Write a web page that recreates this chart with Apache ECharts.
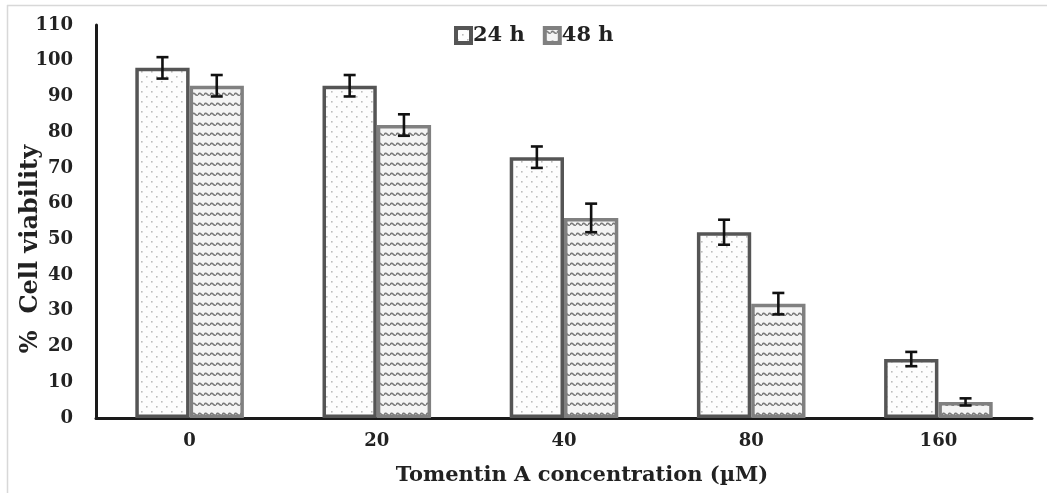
<!DOCTYPE html>
<html><head><meta charset="utf-8">
<script src="https://cdn.jsdelivr.net/npm/echarts@6/dist/echarts.min.js"></script>
<style>html,body{margin:0;padding:0;background:#fff}#c{width:1047px;height:493px}</style>
</head><body><div id="c"></div>
<script>
const categories = ['0', '20', '40', '80', '160'];
const seriesNames = ['24 h', '48 h'];
const values24 = [98, 93, 73, 52, 16.5];
const values48 = [93, 82, 56, 32, 4.5];
const err24 = [3, 3, 3, 3.5, 2];
const err48 = [3, 3, 4, 3, 1];
const yTicks = [0, 10, 20, 30, 40, 50, 60, 70, 80, 90, 100, 110];
const xTitle = 'Tomentin A concentration (µM)';
const yTitle = '%  Cell viability';

function dotPattern() {
  const c = document.createElement('canvas'); c.width = 10; c.height = 10;
  const g = c.getContext('2d');
  g.fillStyle = '#fdfdfd'; g.fillRect(0, 0, 10, 10);
  g.fillStyle = '#bdbdbd';
  g.fillRect(1, 1, 1.6, 1.6); g.fillRect(6, 6, 1.6, 1.6);
  return c;
}
function wavePattern() {
  const c = document.createElement('canvas'); c.width = 6; c.height = 10;
  const g = c.getContext('2d');
  g.fillStyle = '#f4f4f4'; g.fillRect(0, 0, 6, 10);
  g.strokeStyle = '#7a7a7a'; g.lineWidth = 1.5;
  g.beginPath(); g.moveTo(0, 5); g.quadraticCurveTo(1.5, 2, 3, 4); g.quadraticCurveTo(4.5, 6, 6, 5); g.stroke();
  return c;
}
const GAP = 0.42;
const chart = echarts.init(document.getElementById('c'));
function errSeries(vals, errs, side) {
  return {
    type: 'custom', z: 10, silent: true,
    data: vals.map((v, i) => [i, v, errs[i]]),
    renderItem: function (params, api) {
      const i = api.value(0), v = api.value(1), e = api.value(2);
      const cw = api.size([1, 0])[0];
      const bw = cw * (1 - GAP) / 2;
      const hi = api.coord([i, v + e]), lo = api.coord([i, v - e]);
      const x = hi[0] + side * bw / 2;
      const cap = 6;
      const st = { stroke: '#111', lineWidth: 2.6 };
      return { type: 'group', children: [
        { type: 'line', shape: { x1: x, y1: hi[1], x2: x, y2: lo[1] }, style: st },
        { type: 'line', shape: { x1: x - cap, y1: hi[1], x2: x + cap, y2: hi[1] }, style: st },
        { type: 'line', shape: { x1: x - cap, y1: lo[1], x2: x + cap, y2: lo[1] }, style: st }
      ]};
    }
  };
}
const serif = '"DejaVu Serif", "Liberation Serif", serif';
const dots = dotPattern(), waves = wavePattern();
chart.setOption({
  animation: false,
  backgroundColor: '#fff',
  graphic: [
    { type: 'line', shape: { x1: 7, y1: 5.5, x2: 1047, y2: 5.5 }, style: { stroke: '#d8d8d8', lineWidth: 1.5 } },
    { type: 'line', shape: { x1: 7.5, y1: 5, x2: 7.5, y2: 493 }, style: { stroke: '#d8d8d8', lineWidth: 1.5 } },
    { type: 'text', x: 31, y: 249, rotation: Math.PI / 2,
      style: { text: yTitle, fontFamily: serif, fontWeight: 'bold', fontSize: 24, fill: '#222', align: 'center', verticalAlign: 'middle' } }
  ],
  legend: {
    top: 20, left: 449, itemGap: 18, itemWidth: 15, itemHeight: 15, icon: 'rect',
    data: [
      { name: seriesNames[0], itemStyle: { borderWidth: 4, borderColor: '#555' } },
      { name: seriesNames[1], itemStyle: { borderWidth: 4, borderColor: '#808080' } }
    ],
    textStyle: { fontFamily: serif, fontWeight: 'bold', fontSize: 21, color: '#222', padding: [0, 0, 0, -3] }
  },
  grid: { left: 96, right: 15, top: 25, bottom: 75 },
  xAxis: {
    type: 'category', data: categories,
    axisLine: { lineStyle: { color: '#1a1a1a', width: 3 } },
    axisTick: { show: false },
    axisLabel: { fontFamily: serif, fontWeight: 'bold', fontSize: 18, color: '#222', margin: 14 },
    name: xTitle, nameLocation: 'middle', nameGap: 47,
    nameTextStyle: { fontFamily: serif, fontWeight: 'bold', fontSize: 21, color: '#222', padding: [0, 0, 0, 36] }
  },
  yAxis: {
    type: 'value', min: 0, max: 110, interval: 10,
    axisLine: { show: true, lineStyle: { color: '#1a1a1a', width: 3 } },
    axisTick: { show: false }, splitLine: { show: false },
    axisLabel: { fontFamily: serif, fontWeight: 'bold', fontSize: 18, color: '#222', margin: 23,
      formatter: v => yTicks.includes(v) ? String(v) : '' }
  },
  series: [
    { name: seriesNames[0], type: 'bar', data: values24, barGap: '0%', barCategoryGap: (GAP * 100) + '%',
      itemStyle: { color: { image: dots, repeat: 'repeat' }, borderColor: '#555', borderWidth: 3.5 } },
    { name: seriesNames[1], type: 'bar', data: values48,
      itemStyle: { color: { image: waves, repeat: 'repeat' }, borderColor: '#808080', borderWidth: 3.5 } },
    errSeries(values24, err24, -1),
    errSeries(values48, err48, 1)
  ]
});
</script></body></html>
